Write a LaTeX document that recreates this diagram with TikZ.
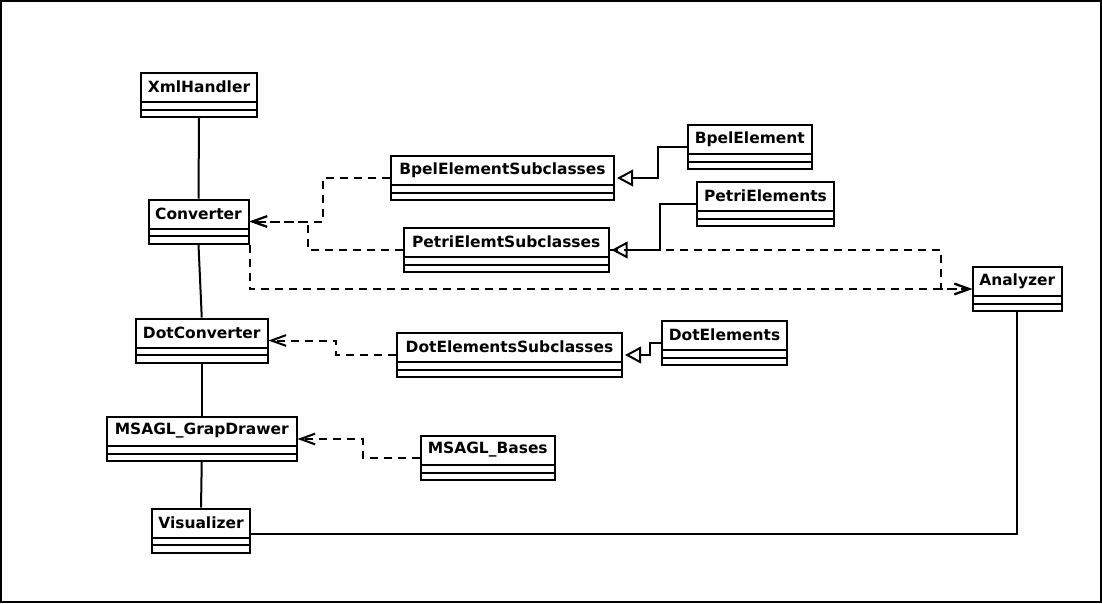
\documentclass[tikz,border=0pt]{standalone}
\usepackage{fontspec}
\setmainfont{DejaVu Sans}
\usetikzlibrary{arrows.meta,fit}
\tikzset{
  cls/.style={draw, line width=1.5pt, inner sep=0pt},
  ttl/.style={font=\bfseries\fontsize{11.6}{13}\selectfont, inner sep=0pt},
  sep/.style={line width=1.5pt},
  assoc/.style={line width=1.5pt},
  dep/.style={line width=1.5pt, dash pattern=on 6pt off 4.5pt, -{Straight Barb[length=11pt,width=8pt,line width=1.5pt]}},
  gen/.style={line width=1.5pt, -{Triangle[open,length=12pt,width=12.5pt,line width=1.5pt]}, shorten >=1.5pt},
}
\newcommand\umlclass[5]{%
  \node[cls, fit={(#2,#3) (#4,#3+44)}] (#1) {};
  \node[ttl] (#1t) at ({(#2+#4)/2},#3+14) {#5};
  \draw[sep] (#2,#3+29) -- (#4,#3+29) (#2,#3+36.5) -- (#4,#3+36.5);
}
\begin{document}
\begin{tikzpicture}[x=0.75pt,y=-0.75pt]
\useasboundingbox (0,0) rectangle (1102,603);
\draw[line width=1.5pt] (1,1) rectangle (1101,602);

\umlclass{xml}{141}{73}{257}{XmlHandler}
\umlclass{conv}{148.5}{199.5}{248.5}{Converter}
\umlclass{bpelsub}{391}{156}{614}{BpelElementSubclasses}
\umlclass{petrisub}{404}{228}{608.5}{PetriElemtSubclasses}
\umlclass{bpel}{688}{125}{811.5}{BpelElement}
\umlclass{petri}{697}{182}{834}{PetriElements}
\umlclass{analyzer}{973}{267}{1061.5}{Analyzer}
\umlclass{dotel}{662}{321}{787}{DotElements}
\umlclass{dotsub}{397}{333}{622}{DotElementsSubclasses}
\umlclass{dotconv}{136}{318.5}{267.5}{DotConverter}
\umlclass{drawer}{107}{417}{296.5}{MSAGL\_GrapDrawer}
\umlclass{bases}{421}{436}{554.5}{MSAGL\_Bases}
\umlclass{vis}{152}{508.5}{250}{Visualizer}

% associations
\draw[assoc] (xml.south) -- (conv.north);
\draw[assoc] (conv.south) -- (dotconv.north);
\draw[assoc] (dotconv.south) -- (drawer.north);
\draw[assoc] (drawer.south) -- (vis.north);
\draw[assoc] ([yshift=-2.5pt]vis.east) -| (analyzer.south);

% dependencies
\draw[dep] (bpelsub.west) -- ++(-67,0) |- (conv.east);
\draw[dep] (petrisub.west) -- ++(-95,0) |- (conv.east);
\draw[dep] (conv.south east) |- (analyzer.west);
\draw[dep] (petrisub.east) -- ++(331.5,0) |- (analyzer.west);
\draw[dep] (dotsub.west) -- ++(-60,0) |- (dotconv.east);
\draw[dep] (bases.west) -- ++(-57,0) |- (drawer.east);

% generalizations
\draw[gen] (bpel.west) -- ++(-29,0) |- (bpelsub.east);
\draw[gen] (petri.west) -- ++(-36,0) |- (petrisub.east);
\draw[gen] (dotel.west) -- ++(-11,0) |- (dotsub.east);
\end{tikzpicture}
\end{document}
